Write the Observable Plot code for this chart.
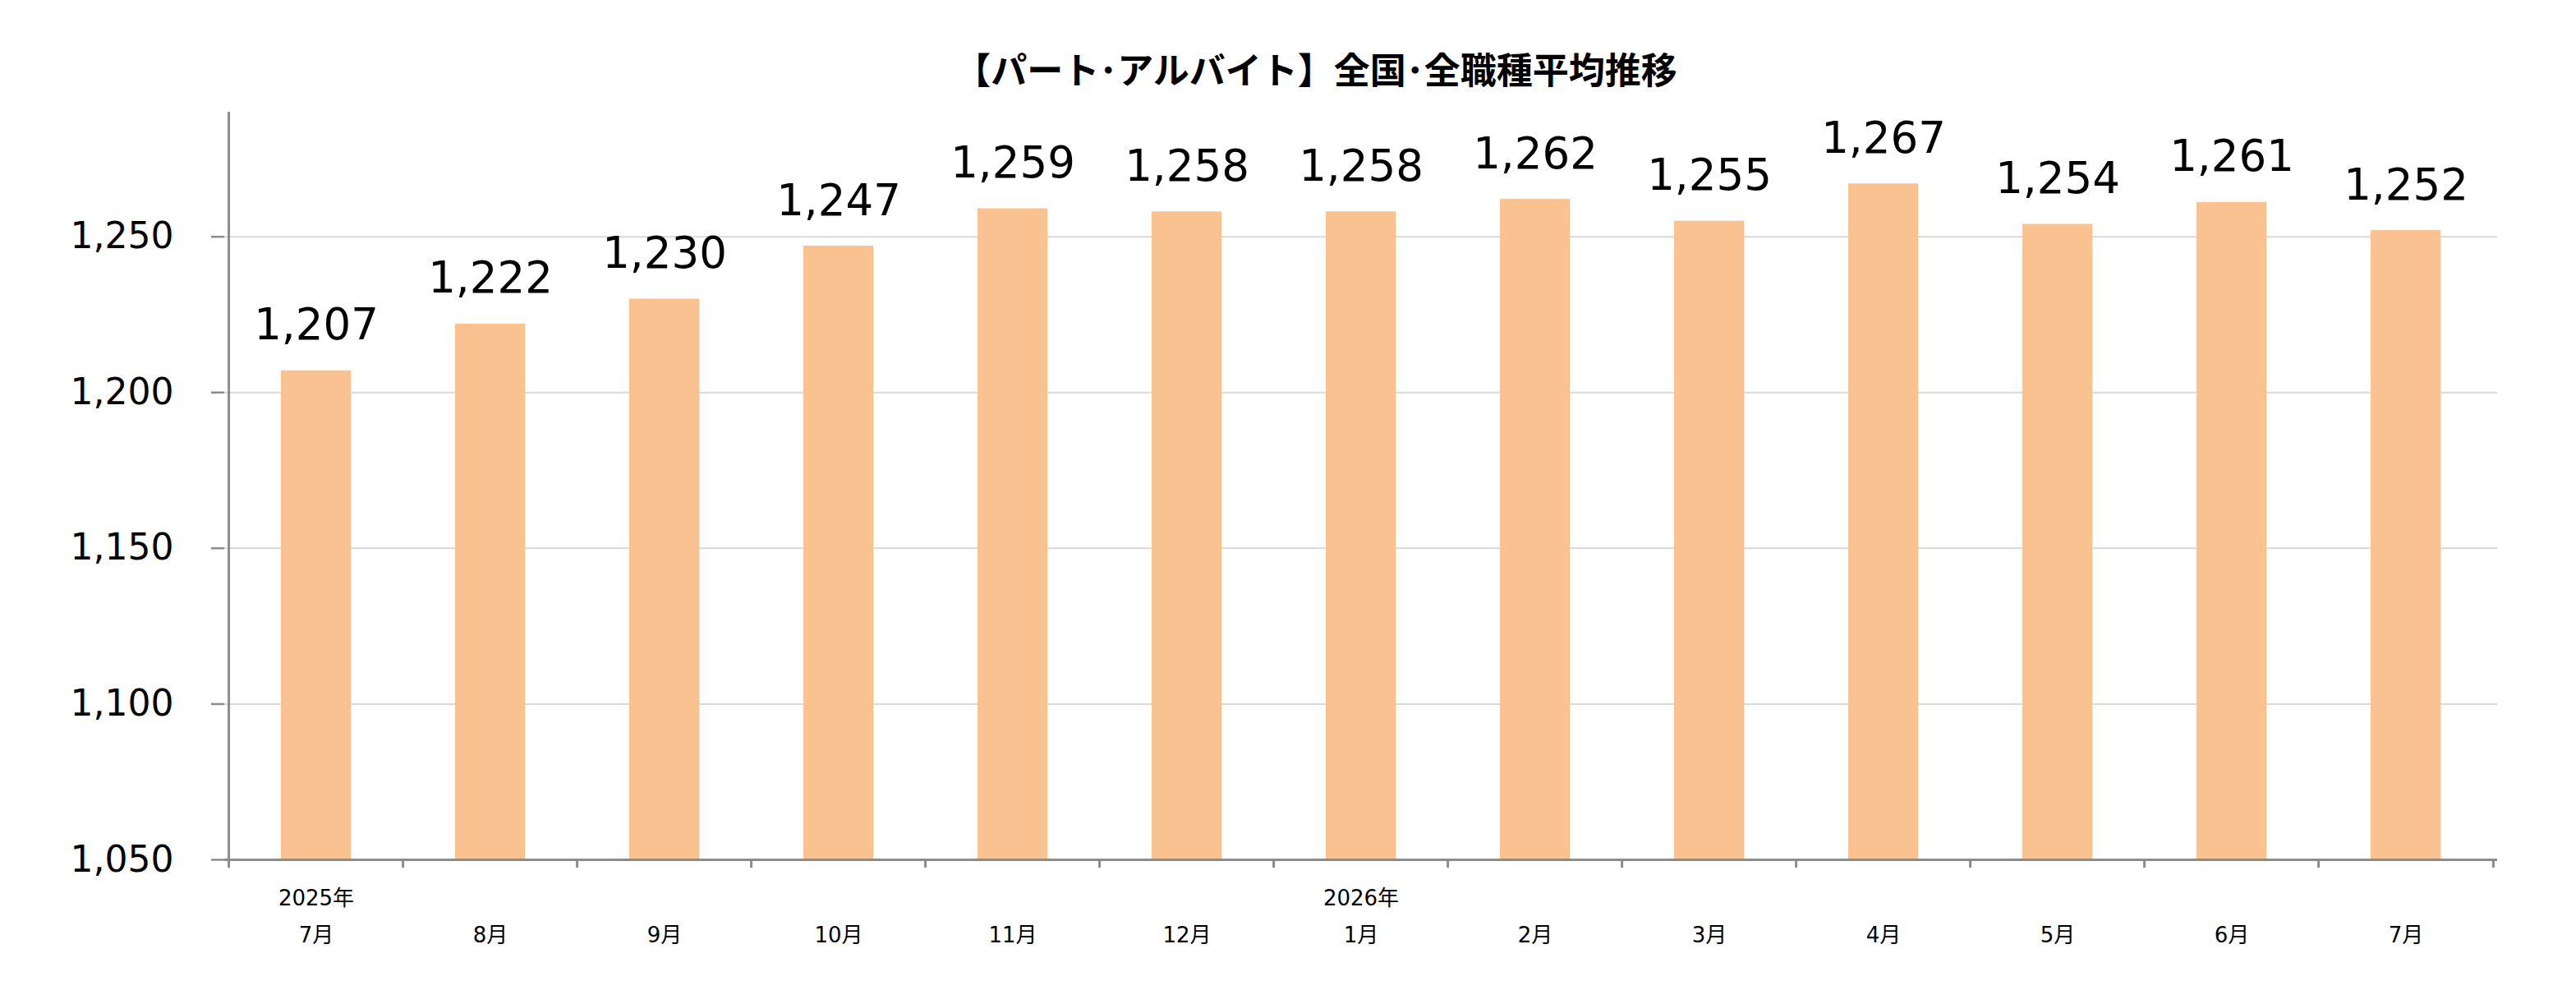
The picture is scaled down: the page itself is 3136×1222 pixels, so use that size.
<!DOCTYPE html>
<html><head><meta charset="utf-8">
<script src="https://cdn.jsdelivr.net/npm/d3@7"></script>
<script src="https://cdn.jsdelivr.net/npm/@observablehq/plot@0.6"></script>
<style>
html,body{margin:0;padding:0;background:#fff;width:3136px;height:1222px;overflow:hidden;}
#title{position:relative;height:110px;}
#title span{position:absolute;left:1602px;top:60px;transform:translateX(-50%);font-family:"Noto Sans CJK JP",sans-serif;font-weight:700;font-size:44px;line-height:46px;white-space:nowrap;color:#000;}
</style></head><body>
<div id="title"><span>【パート･アルバイト】全国･全職種平均推移</span></div>
<div id="chart"></div>
<script>
// Data
const periods = ["2025-07","2025-08","2025-09","2025-10","2025-11","2025-12","2026-01","2026-02","2026-03","2026-04","2026-05","2026-06","2026-07"];
const yearLabels = ["2025年","","","","","","2026年","","","","","",""];
const monthLabels = ["7月","8月","9月","10月","11月","12月","1月","2月","3月","4月","5月","6月","7月"];
const wages = [1207,1222,1230,1247,1259,1258,1258,1262,1255,1267,1254,1261,1252];
const yTicks = [1050,1100,1150,1200,1250];
const gridTicks = [1100,1150,1200,1250];
const yMin = 1050, yMax = 1290;

const data = periods.map((p,i)=>({period:p, wage:wages[i], year:yearLabels[i], month:monthLabels[i]}));

const W = 3136, H = 1112, mL = 273, mR = 96, mT = 26, mB = 176;
const step = (W - mL - mR) / periods.length;
const frameH = H - mT - mB;
const axisColor = "#8c8c8c";
const fmt = d3.format(",");

const chart = Plot.plot({
  width: W, height: H,
  marginLeft: mL, marginRight: mR, marginTop: mT, marginBottom: mB,
  style: {fontFamily: '"DejaVu Sans","Noto Sans CJK JP",sans-serif', background: "#fff", color: "#000"},
  x: {type: "band", domain: periods, paddingInner: 0.6, paddingOuter: 0.3, axis: null},
  y: {domain: [yMin, yMax], axis: null},
  marks: [
    Plot.ruleY(gridTicks, {stroke: "#d9d9d9", strokeWidth: 2}),
    Plot.barY(data, {x: "period", y1: yMin, y2: "wage", fill: "#F9C290"}),
    Plot.ruleY([yMin], {stroke: axisColor, strokeWidth: 3}),
    Plot.ruleX([periods[0]], {dx: -step/2, stroke: axisColor, strokeWidth: 3}),
    Plot.ruleX(periods, {dx: -step/2, insetTop: frameH, insetBottom: -10, stroke: axisColor, strokeWidth: 3}),
    Plot.ruleX([periods[periods.length-1]], {dx: step/2, insetTop: frameH, insetBottom: -10, stroke: axisColor, strokeWidth: 3}),
    Plot.axisY(yTicks, {tickSize: 16, tickPadding: 46, tickFormat: fmt, fontSize: 44, stroke: axisColor, strokeWidth: 2.5, fill: "#000", label: null}),
    Plot.text(data, {x: "period", y: "wage", text: d => fmt(d.wage), lineAnchor: "bottom", dy: -38, fontSize: 53, fill: "#000"}),
    Plot.text(data, {x: "period", text: "year", frameAnchor: "bottom", lineAnchor: "bottom", dy: 55, fontSize: 26, fill: "#000"}),
    Plot.text(data, {x: "period", text: "month", frameAnchor: "bottom", lineAnchor: "bottom", dy: 100, fontSize: 26, fill: "#000"})
  ]
});
document.getElementById("chart").appendChild(chart);
</script>
</body></html>
